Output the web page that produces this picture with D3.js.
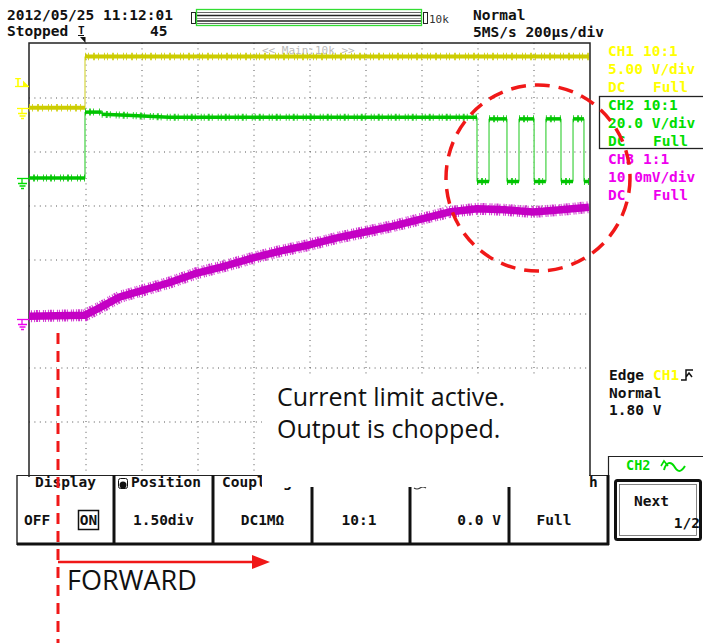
<!DOCTYPE html>
<html><head><meta charset="utf-8">
<script src="https://cdn.jsdelivr.net/npm/d3@7"></script>
<style>html,body{margin:0;padding:0;background:#fff;overflow:hidden}</style>
</head><body>
<svg id="c" width="703" height="643" xmlns="http://www.w3.org/2000/svg"></svg>
<script>
// ---------------- data ----------------
// time in microseconds relative to trigger (200 us/div)
const timeTicks = [-200, 0, 200, 400, 600, 800, 1000, 1200, 1400, 1600, 1800];
const divTicks = [-4, -3, -2, -1, 0, 1, 2, 3, 4];
// CH1 (V)
const ch1Time  = [-200, 0, 0, 1800];
const ch1Volts = [0, 0, 4.75, 4.75];
// CH2 (V) - chopped output
const ch2Time  = [-200, 0, 0, 60, 60, 150, 300, 1400, 1400, 1443, 1443, 1507, 1507, 1550, 1550, 1604, 1604, 1646, 1646, 1700, 1700, 1743, 1743, 1782, 1782, 1800];
const ch2Volts = [0, 0, 24.4, 24.4, 23.6, 23.2, 22.5, 22.5, -1.3, -1.3, 21.9, 21.9, -1.3, -1.3, 21.9, 21.9, -1.3, -1.3, 21.9, 21.9, -1.3, -1.3, 21.9, 21.9, -1.3, -1.3];
// CH3 (mV) - current
const ch3Time = [-200, -100, 0, 50, 125, 200, 300, 400, 500, 600, 700, 800, 900, 1000, 1100, 1200, 1300, 1400, 1500, 1600, 1700, 1800];
const ch3MilliVolts = [0.4, 0.5, 0.6, 1.9, 4.0, 5.1, 6.6, 8.4, 9.7, 11.2, 12.5, 13.6, 14.9, 16.0, 17.1, 18.4, 19.7, 20.3, 20.1, 19.7, 20.1, 20.6];
const triggerLevel = 1.80;
const ch1Info = ["CH1 10:1", "5.00 V/div", "DC", "Full"];
const ch2Info = ["CH2 10:1", "20.0 V/div", "DC", "Full"];
const ch3Info = ["CH3 1:1", "10.0mV/div", "DC", "Full"];
const menuLabels = ["Display", "Position", "Coupling", "Probe", "Offset", "Bandwidth"];
const menuValues = ["", "1.50div", "DC1M\u03A9", "10:1", "0.0 V", "Full"];
const noteLines = ["Current limit active.", "Output is chopped."];

// ---------------- scales ----------------
const svg = d3.select("#c");
const L = 29, R = 589, T = 43, B = 475;
const x = d3.scaleLinear().domain([-200, 1800]).range([L, R]);
const yDiv = d3.scaleLinear().domain([-4, 4]).range([B, T]);
const y1 = d3.scaleLinear().domain([(-4 - 2.8) * 5, (4 - 2.8) * 5]).range([B, T]);
const y2 = d3.scaleLinear().domain([(-4 - 1.5) * 20, (4 - 1.5) * 20]).range([B, T]);
const y3 = d3.scaleLinear().domain([(-4 + 1.1) * 10, (4 + 1.1) * 10]).range([B, T]);

const MONO = "'DejaVu Sans Mono', 'Liberation Mono', monospace";
const YEL = "#ffff00", GRN = "#00dd00", MAG = "#ee00ee";
const YELT = "#cccc00", GRNT = "#00c400", MAGT = "#c400c4";
const RED = "#f01818";

function txt(g, xx, yy, s, o = {}) {
  return g.append("text").attr("x", xx).attr("y", yy).text(s)
    .attr("font-family", o.family || MONO).attr("font-size", o.size || 14.5)
    .attr("font-weight", o.weight || "bold").attr("fill", o.fill || "#111")
    .attr("text-anchor", o.anchor || "start");
}

// ---------------- grid ----------------
const grid = svg.append("g");
const gx = grid.append("g").attr("transform", `translate(0.5,${T})`)
  .call(d3.axisBottom(x).tickValues(timeTicks.slice(1, -1)).tickSize(B - T).tickFormat(""));
const gy = grid.append("g").attr("transform", `translate(${L},0.5)`)
  .call(d3.axisRight(yDiv).tickValues(divTicks.slice(1, -1)).tickSize(R - L).tickFormat(""));
[gx, gy].forEach(g => {
  g.select(".domain").remove();
  g.selectAll("line").attr("stroke", "#555").attr("stroke-width", 1).attr("stroke-dasharray", "1,4.4");
});
// frame
grid.append("path").attr("d", `M${L},${B + 2}V${T}H${R + 1}V${B}`)
  .attr("fill", "none").attr("stroke", "#222").attr("stroke-width", 1.5);

// ---------------- traces ----------------
function split(Tm, V) {
  const runs = [], edges = [];
  let cur = [[Tm[0], V[0]]];
  for (let i = 1; i < Tm.length; i++) {
    if (Tm[i] === Tm[i - 1]) {
      runs.push(cur); edges.push([[Tm[i - 1], V[i - 1]], [Tm[i], V[i]]]);
      cur = [[Tm[i], V[i]]];
    } else cur.push([Tm[i], V[i]]);
  }
  runs.push(cur);
  return { runs, edges };
}
function drawTrace(Tm, V, ys, col, edgeCol, w, fuzzW, dash) {
  const g = svg.append("g");
  const line = d3.line().x(d => x(d[0])).y(d => ys(d[1]));
  const s = split(Tm, V);
  s.edges.forEach(e => g.append("path").attr("d", line(e)).attr("fill", "none")
    .attr("stroke", edgeCol).attr("stroke-width", 1.6));
  s.runs.forEach(r => {
    g.append("path").attr("d", line(r)).attr("fill", "none").attr("stroke", col)
      .attr("stroke-width", fuzzW).attr("stroke-dasharray", dash).attr("opacity", 0.8);
    g.append("path").attr("d", line(r)).attr("fill", "none").attr("stroke", col)
      .attr("stroke-width", w).attr("stroke-linejoin", "round");
  });
}
drawTrace(ch3Time, ch3MilliVolts, y3, MAGT, MAGT, 7.5, 12, "1,1,1,2,1,1,2,1,1,3");
drawTrace(ch1Time, ch1Volts, y1, YELT, "#e0e070", 4, 7.5, "1,2,1,4,2,3,1,5");
drawTrace(ch2Time, ch2Volts, y2, GRNT, "#70dd70", 3.5, 7, "1,3,2,2,1,5,1,2");

// ---------------- left markers ----------------
function ground(yy, col) {
  const g = svg.append("g").attr("stroke", col).attr("stroke-width", 1.3).attr("fill", "none");
  g.append("path").attr("d", `M17,${yy}H${L}`);
  g.append("path").attr("d", `M22,${yy}V${yy + 5}M18,${yy + 5}H27M19.5,${yy + 7.5}H25.5M21,${yy + 10}H24`);
}
ground(Math.round(y1(0)) + 0.5, YEL);
ground(Math.round(y2(0)) + 0.5, GRN);
ground(Math.round(y3(0)) + 1.5, MAG);
const ty = Math.round(y1(triggerLevel)) - 1.5;
svg.append("path").attr("d", `M15,${ty}H29`).attr("stroke", YEL).attr("stroke-width", 1.3);
txt(svg, 15, ty - 1, "T", { fill: YEL, size: 11 });
svg.append("path").attr("d", `M23,${ty - 6}L29,${ty}L23,${ty}Z`).attr("fill", YEL);

// ---------------- header ----------------
txt(svg, 7, 20, "2012/05/25 11:12:01");
txt(svg, 7, 36, "Stopped");
txt(svg, 150, 36, "45");
txt(svg, 78, 34, "T", { size: 11 });
svg.append("path").attr("d", "M78,35.5H84").attr("stroke", "#111");
svg.append("path").attr("d", `M${x(0) - 5},37L${x(0) + 0.5},37L${x(0) + 0.5},43Z`).attr("fill", "#111");
// zoom bar
svg.append("rect").attr("x", 191.5).attr("y", 12.5).attr("width", 4).attr("height", 11).attr("fill", "none").attr("stroke", "#222");
svg.append("rect").attr("x", 423.5).attr("y", 12.5).attr("width", 4).attr("height", 11).attr("fill", "none").attr("stroke", "#222");
[[12.5, "#666", 1], [15.5, "#222", 1.6], [18.5, "#999", 1], [21, "#222", 1.6], [23.5, "#666", 1]].forEach(d =>
  svg.append("path").attr("d", `M197,${d[0]}H421`).attr("stroke", d[1]).attr("stroke-width", d[2]));
svg.append("rect").attr("x", 196.5).attr("y", 9.5).attr("width", 225).attr("height", 16).attr("fill", "none").attr("stroke", "#33dd33").attr("stroke-width", 1.3);
txt(svg, 429, 23, "10k", { size: 11, weight: "normal", fill: "#333" });
txt(svg, 473, 20, "Normal");
txt(svg, 473, 37, "5MS/s 200\u00B5s/div");
txt(svg, 262, 54, "<< Main:10k >>", { size: 11, weight: "normal", fill: "#bbb" });

// ---------------- right info ----------------
function info(arr, y0, col) {
  txt(svg, 608, y0, arr[0], { fill: col });
  txt(svg, 608, y0 + 18, arr[1], { fill: col });
  txt(svg, 608, y0 + 36, arr[2], { fill: col });
  txt(svg, 653, y0 + 36, arr[3], { fill: col });
}
info(ch1Info, 56, YEL);
info(ch2Info, 110, GRN);
info(ch3Info, 164, MAG);
svg.append("rect").attr("x", 599.5).attr("y", 96.5).attr("width", 110).attr("height", 52).attr("fill", "none").attr("stroke", "#222").attr("stroke-width", 1.3);
const tg = svg.append("g");
txt(tg, 609, 380, "Edge");
txt(tg, 653, 380, "CH1", { fill: YEL });
txt(tg, 609, 398, "Normal");
txt(tg, 609, 415, "1.80 V");
tg.append("path").attr("d", "M681,380H686V370H693M686,377L689,373L692,377").attr("fill", "none").attr("stroke", "#111").attr("stroke-width", 1.5);

// ---------------- menu ----------------
const menu = svg.append("g");
const divX = [17, 114, 213, 312, 410, 509, 608];
menu.append("path").attr("d", "M17,475.5H608").attr("stroke", "#222").attr("stroke-width", 1.2);
menu.append("path").attr("d", "M17,544H609").attr("stroke", "#111").attr("stroke-width", 3);
divX.forEach((d, i) => menu.append("path").attr("d", `M${d},475V545`).attr("stroke", "#111").attr("stroke-width", i === 0 ? 1.3 : 3));
const centers = divX.slice(0, -1).map((d, i) => (d + divX[i + 1]) / 2);
menuLabels.forEach((s, i) => {
  const cx = i === 1 ? 166 : i === 2 ? 222 : centers[i];
  txt(menu, cx, 487, s, { anchor: i === 2 ? "start" : "middle" });
});
menu.append("rect").attr("x", 118.5).attr("y", 478.5).attr("width", 9).attr("height", 10).attr("rx", 2).attr("fill", "none").attr("stroke", "#111");
menu.append("circle").attr("cx", 123).attr("cy", 485).attr("r", 3.5).attr("fill", "#111");
menu.append("path").attr("d", "M414,488q3,2 6,0t6,0").attr("fill", "none").attr("stroke", "#333").attr("stroke-width", 1.2);
txt(menu, 24, 525, "OFF");
menu.append("rect").attr("x", 78.5).attr("y", 510.5).attr("width", 20).attr("height", 19).attr("fill", "none").attr("stroke", "#111").attr("stroke-width", 1.5);
txt(menu, 88.5, 525, "ON", { anchor: "middle" });
menuValues.forEach((s, i) => {
  if (!s) return;
  if (i === 4) txt(menu, 501, 525, s, { anchor: "end" });
  else txt(menu, i === 5 ? 554 : centers[i] + (i === 3 ? -2 : 0), 525, s, { anchor: "middle" });
});
// Next button
menu.append("rect").attr("x", 615.5).attr("y", 480.5).attr("width", 85).attr("height", 59).attr("rx", 2).attr("fill", "none").attr("stroke", "#111").attr("stroke-width", 3);
menu.append("rect").attr("x", 619.5).attr("y", 484.5).attr("width", 77).attr("height", 51).attr("fill", "none").attr("stroke", "#666").attr("stroke-width", 0.8);
txt(menu, 634, 506, "Next");
txt(menu, 700, 528, "1/2", { anchor: "end" });
// CH2 tag
menu.append("path").attr("d", "M608.5,475V456.5H703").attr("fill", "none").attr("stroke", "#222").attr("stroke-width", 1.2);
txt(menu, 626, 470, "CH2", { fill: GRN, size: 13.5 });
menu.append("path").attr("d", "M664,470C666,462 671,461 674,466S680,474 685,466").attr("fill", "none").attr("stroke", GRN).attr("stroke-width", 2);
menu.append("path").attr("d", "M661,466L664,461L668,466").attr("fill", "none").attr("stroke", GRN).attr("stroke-width", 1.6);

// ---------------- annotation overlay ----------------
svg.append("rect").attr("x", 262).attr("y", 376).attr("width", 327).attr("height", 111).attr("fill", "#fff");
const NOTE = "Tahoma, 'Open Sans', 'DejaVu Sans', sans-serif";
noteLines.forEach((s, i) => txt(svg, 277, 406 + i * 32, s, { family: NOTE, weight: "normal", size: 25, fill: "#111" }));

const ann = svg.append("g").attr("fill", "none").attr("stroke", RED);
ann.append("ellipse").attr("cx", 538).attr("cy", 178).attr("rx", 92).attr("ry", 93)
  .attr("stroke-width", 3.5).attr("stroke-dasharray", "15,9");
ann.append("path").attr("d", "M58,333V643").attr("stroke-width", 3).attr("stroke-dasharray", "11,7");
ann.append("path").attr("d", "M58,562H254").attr("stroke-width", 2.5);
svg.append("path").attr("d", "M252,555L270,562L252,569Z").attr("fill", RED);
txt(svg, 67, 590, "FORWARD", { family: NOTE, weight: "normal", size: 27, fill: "#111" });
</script>
</body></html>
